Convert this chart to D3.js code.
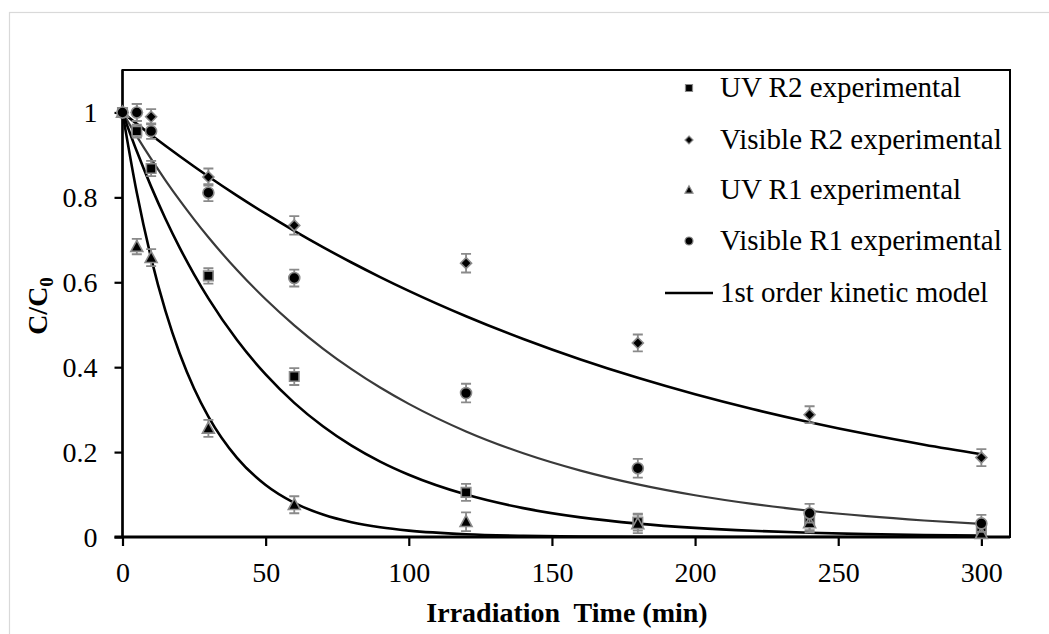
<!DOCTYPE html>
<html>
<head>
<meta charset="utf-8">
<script src="https://cdn.jsdelivr.net/npm/d3@7/dist/d3.min.js"></script>
<style>
  html, body { margin: 0; padding: 0; background: #fff; }
  svg text { font-family: "Liberation Serif", "Times New Roman", serif; fill: #000; }
</style>
</head>
<body>
<svg id="chart" width="1049" height="634"></svg>
<script>
// ---- Data ----
const times = [0, 5, 10, 30, 60, 120, 180, 240, 300];
const uvR2  = [1.0, 0.956, 0.868, 0.615, 0.378, 0.105, 0.035, 0.036, 0.012];
const visR2 = [1.0, 1.0, 0.99, 0.848, 0.734, 0.645, 0.457, 0.288, 0.187];
const uvR1  = [1.0, 0.684, 0.658, 0.256, 0.076, 0.036, 0.031, 0.033, 0.008];
const visR1 = [1.0, 1.0, 0.956, 0.811, 0.61, 0.339, 0.162, 0.056, 0.032];
const errUvR2  = [0.01, 0.015, 0.018, 0.018, 0.02, 0.02, 0.02, 0.02, 0.015];
const errVisR2 = [0.01, 0.02, 0.018, 0.02, 0.022, 0.022, 0.02, 0.02, 0.02];
const errUvR1  = [0.01, 0.018, 0.02, 0.02, 0.02, 0.022, 0.022, 0.022, 0.015];
const errVisR1 = [0.01, 0.02, 0.018, 0.02, 0.02, 0.022, 0.022, 0.022, 0.02];

// 1st order kinetic model curves
const modelTimes = [0, 5, 10, 15, 20, 25, 30, 40, 50, 60, 70, 80, 90, 100, 120, 140, 160, 180, 200, 220, 240, 260, 280, 300];
const modelVisR2 = [1, 0.9731, 0.9470, 0.9215, 0.8967, 0.8726, 0.8492, 0.8041, 0.7615, 0.7211, 0.6828, 0.6466, 0.6123, 0.5798, 0.5200, 0.4663, 0.4181, 0.3749, 0.3362, 0.3015, 0.2704, 0.2424, 0.2174, 0.1950];
const modelVisR1 = [1, 0.9436, 0.8905, 0.8403, 0.7929, 0.7483, 0.7061, 0.6288, 0.5599, 0.4986, 0.4440, 0.3954, 0.3520, 0.3135, 0.2486, 0.1971, 0.1563, 0.1239, 0.0983, 0.0779, 0.0618, 0.0490, 0.0389, 0.0308];
const modelUvR2  = [1, 0.9085, 0.8253, 0.7498, 0.6811, 0.6188, 0.5621, 0.4639, 0.3829, 0.3160, 0.2608, 0.2152, 0.1776, 0.1466, 0.0999, 0.0680, 0.0463, 0.0316, 0.0215, 0.0146, 0.0100, 0.0068, 0.0046, 0.0032];
const modelUvR1  = [1, 0.8106, 0.6570, 0.5326, 0.4317, 0.3499, 0.2837, 0.1864, 0.1225, 0.0805, 0.0529, 0.0347, 0.0228, 0.0150, 0.0065, 0.0028, 0.0012, 0.0005, 0.0002, 0.0001, 0, 0, 0, 0];

const xTicks = [0, 50, 100, 150, 200, 250, 300];
const yTicks = [0, 0.2, 0.4, 0.6, 0.8, 1];
const legendLabels = ["UV R2 experimental", "Visible R2 experimental", "UV R1 experimental", "Visible R1 experimental", "1st order kinetic model"];

// ---- Drawing ----
const svg = d3.select("#chart");
const x = d3.scaleLinear().domain([0, 310]).range([122.5, 1010]);
const y = d3.scaleLinear().domain([0, 1.1]).range([537, 70]);

// outer light border
svg.append("rect").attr("x", 9.5).attr("y", 12.5).attr("width", 1060).attr("height", 640)
  .attr("fill", "none").attr("stroke", "#d9d9d9").attr("stroke-width", 1.2);

// plot frame
svg.append("rect").attr("x", x(0)).attr("y", y(1.1)).attr("width", x(310) - x(0)).attr("height", y(0) - y(1.1))
  .attr("fill", "none").attr("stroke", "#000").attr("stroke-width", 2);

// model curves
const clipId = "plotclip";
svg.append("clipPath").attr("id", clipId).append("rect")
  .attr("x", x(0)).attr("y", y(1.1)).attr("width", x(310) - x(0)).attr("height", y(0) - y(1.1));
const line = d3.line().x(d => x(d[0])).y(d => y(d[1])).curve(d3.curveMonotoneX);
const models = [
  { v: modelVisR2, color: "#000", w: 2.6 },
  { v: modelVisR1, color: "#3a3a3a", w: 2.2 },
  { v: modelUvR2, color: "#000", w: 2.6 },
  { v: modelUvR1, color: "#000", w: 2.6 }
];
const gCurves = svg.append("g").attr("clip-path", `url(#${clipId})`);
models.forEach(m => {
  gCurves.append("path").datum(modelTimes.map((t, i) => [t, m.v[i]]))
    .attr("d", line).attr("fill", "none").attr("stroke", m.color).attr("stroke-width", m.w);
});

// axes
const xAxis = d3.axisBottom(x).tickValues(xTicks).tickSize(9).tickPadding(16).tickFormat(d3.format("d"));
const gx = svg.append("g").attr("transform", `translate(0,${y(0)})`).call(xAxis);
gx.select(".domain").attr("stroke-width", 3).attr("d", `M${x(0) - 8},0H${x(310)}`);
gx.selectAll(".tick line").attr("stroke-width", 2.2);
gx.selectAll("text").attr("font-size", 28).attr("dy", "0.72em");

const yAxis = d3.axisLeft(y).tickValues(yTicks).tickSize(8).tickPadding(17)
  .tickFormat(d => d === 0 || d === 1 ? String(d) : d3.format(".1f")(d));
const gy = svg.append("g").attr("transform", `translate(${x(0)},0)`).call(yAxis);
gy.select(".domain").attr("stroke-width", 2.4).attr("d", `M0,${y(0)}V${y(1.1)}`);
gy.selectAll(".tick line").attr("stroke-width", 2.2);
gy.selectAll("text").attr("font-size", 28).attr("dy", "0.34em");

// marker shapes
function shapePath(shape, s) {
  const h = s / 2;
  if (shape === "square") return `M${-h},${-h}H${h}V${h}H${-h}Z`;
  if (shape === "diamond") return `M0,${-h}L${h},0L0,${h}L${-h},0Z`;
  if (shape === "triangle") return `M0,${-h * 1.05}L${h},${h * 0.8}L${-h},${h * 0.8}Z`;
  return d3.arc()({ innerRadius: 0, outerRadius: h, startAngle: 0, endAngle: 2 * Math.PI });
}

// series (error bars + markers), drawn in Excel series order
const series = [
  { v: uvR2, e: errUvR2, shape: "square", size: 9.5 },
  { v: visR2, e: errVisR2, shape: "diamond", size: 11 },
  { v: uvR1, e: errUvR1, shape: "triangle", size: 12 },
  { v: visR1, e: errVisR1, shape: "circle", size: 11 }
];
const capW = 5;
series.forEach(s => {
  const g = svg.append("g");
  times.forEach((t, i) => {
    const cx = x(t), cy = y(s.v[i]);
    const top = y(s.v[i] + s.e[i]), bot = y(Math.max(0, s.v[i] - s.e[i]));
    g.append("path")
      .attr("d", `M${cx},${top}V${bot}M${cx - capW},${top}H${cx + capW}M${cx - capW},${bot}H${cx + capW}`)
      .attr("stroke", "#8a8a8a").attr("stroke-width", 1.8).attr("fill", "none");
    g.append("path").attr("d", shapePath(s.shape, s.size))
      .attr("transform", `translate(${cx},${cy})`)
      .attr("fill", "#000").attr("stroke", "#8a8a8a").attr("stroke-width", 1.6);
  });
});

// axis titles
svg.append("text").attr("x", 567).attr("y", 622).attr("text-anchor", "middle")
  .attr("font-size", 28).attr("font-weight", "bold").style("white-space", "pre")
  .text("Irradiation  Time (min)");

const yt = svg.append("text").attr("transform", "translate(47,306) rotate(-90)")
  .attr("text-anchor", "middle").attr("font-size", 28).attr("font-weight", "bold");
yt.append("tspan").text("C/C");
yt.append("tspan").attr("font-size", 19).attr("dy", 6).text("0");

// legend
const legendRows = [88, 140, 190, 241, 293];
const legShapes = [
  { shape: "square", size: 7 },
  { shape: "diamond", size: 8 },
  { shape: "triangle", size: 8 },
  { shape: "circle", size: 8 },
  null
];
const lg = svg.append("g");
legendLabels.forEach((lab, i) => {
  const cy = legendRows[i];
  if (legShapes[i]) {
    lg.append("path").attr("d", shapePath(legShapes[i].shape, legShapes[i].size))
      .attr("transform", `translate(689,${cy})`)
      .attr("fill", "#000").attr("stroke", "#8a8a8a").attr("stroke-width", 1.2);
  } else {
    lg.append("line").attr("x1", 665).attr("x2", 713).attr("y1", cy).attr("y2", cy)
      .attr("stroke", "#000").attr("stroke-width", 2.4);
  }
  lg.append("text").attr("x", 720).attr("y", cy + 9).attr("font-size", 29).text(lab);
});
</script>
</body>
</html>
